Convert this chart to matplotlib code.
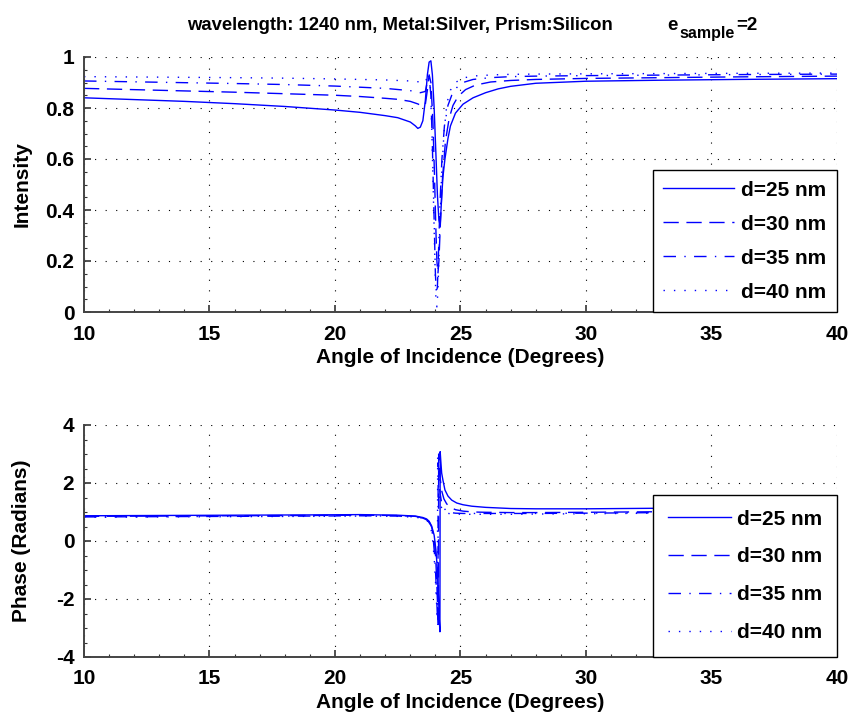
"""SPR: intensidade e fase da reflexão vs ângulo de incidência (4 espessuras de prata)."""
import numpy as np
import matplotlib
matplotlib.use('Agg')
import matplotlib.pyplot as plt
from matplotlib.ticker import MultipleLocator

plt.rcParams['font.family'] = ['Liberation Sans', 'DejaVu Sans']
plt.rcParams['font.weight'] = 'bold'
plt.rcParams['axes.labelweight'] = 'bold'

LABELS = ['d=25 nm', 'd=30 nm', 'd=35 nm', 'd=40 nm']

# --- intensidade ---
ANG_I25 = [10, 12, 14, 16, 18, 20, 21, 22, 22.5, 23, 23.2, 23.3, 23.4, 23.5, 23.6, 23.68, 23.75, 23.82,
           23.88, 23.95, 24.02, 24.08, 24.14, 24.19, 24.25, 24.3, 24.38, 24.5, 24.6, 24.8, 25.1, 25.5,
           26, 26.5, 27, 28, 30, 33, 36, 40]
INT_25 = [0.840, 0.833, 0.826, 0.817, 0.806, 0.792, 0.783, 0.770, 0.762, 0.745, 0.730, 0.720, 0.725,
          0.750, 0.830, 0.930, 0.980, 0.985, 0.930, 0.800, 0.620, 0.460, 0.360, 0.340, 0.450, 0.530,
          0.600, 0.680, 0.730, 0.780, 0.815, 0.840, 0.860, 0.875, 0.885, 0.897, 0.905, 0.909, 0.912, 0.915]

ANG_I30 = [10, 12, 14, 16, 18, 20, 21, 22, 22.5, 23, 23.3, 23.5, 23.6, 23.68, 23.75, 23.82, 23.9,
           23.96, 24.02, 24.06, 24.1, 24.14, 24.2, 24.28, 24.4, 24.55, 24.7, 24.9, 25.2, 25.6, 26.2,
           27, 28, 30, 33, 36, 40]
INT_30 = [0.877, 0.872, 0.867, 0.862, 0.856, 0.850, 0.845, 0.838, 0.834, 0.826, 0.816, 0.806, 0.815,
          0.870, 0.930, 0.900, 0.750, 0.550, 0.320, 0.200, 0.150, 0.200, 0.350, 0.520, 0.670, 0.760,
          0.810, 0.845, 0.872, 0.890, 0.902, 0.908, 0.912, 0.916, 0.919, 0.922, 0.925]

ANG_I35 = [10, 13, 16, 18, 20, 22, 23, 23.4, 23.6, 23.68, 23.75, 23.82, 23.88, 23.94, 24.0, 24.04,
           24.08, 24.12, 24.18, 24.26, 24.36, 24.5, 24.65, 24.85, 25.1, 25.5, 26.2, 27, 28, 30, 33,
           36, 40]
INT_35 = [0.906, 0.901, 0.896, 0.892, 0.886, 0.877, 0.868, 0.860, 0.865, 0.905, 0.925, 0.850, 0.650,
          0.400, 0.150, 0.070, 0.100, 0.220, 0.420, 0.600, 0.730, 0.810, 0.850, 0.880, 0.900, 0.912,
          0.919, 0.923, 0.925, 0.927, 0.929, 0.931, 0.933]

ANG_I40 = [10, 13, 16, 18, 20, 22, 23, 23.4, 23.6, 23.68, 23.74, 23.8, 23.86, 23.92, 23.98, 24.02,
           24.06, 24.1, 24.16, 24.24, 24.34, 24.46, 24.6, 24.8, 25.1, 25.6, 26.3, 27, 28, 30, 33,
           36, 40]
INT_40 = [0.923, 0.921, 0.919, 0.917, 0.914, 0.910, 0.906, 0.902, 0.900, 0.925, 0.935, 0.880, 0.700,
          0.450, 0.200, 0.050, 0.020, 0.080, 0.280, 0.520, 0.700, 0.820, 0.870, 0.900, 0.918, 0.926,
          0.930, 0.932, 0.933, 0.934, 0.935, 0.936, 0.937]

# --- fase (rad) ---
ANG_P25 = [10, 13, 16, 19, 21, 22.5, 23.2, 23.5, 23.65, 23.75, 23.85, 23.95, 24.02, 24.08, 24.12,
           24.16, 24.18, 24.19, 24.22, 24.25, 24.3, 24.38, 24.5, 24.65, 24.85, 25.1, 25.45, 26, 27,
           28, 30, 33, 36, 40]
PH_25 = [0.87, 0.88, 0.89, 0.90, 0.91, 0.89, 0.86, 0.81, 0.76, 0.68, 0.52, 0.20, -0.30, -1.00, -1.90,
         -2.80, -3.13, 3.08, 2.70, 2.34, 2.10, 1.76, 1.55, 1.41, 1.31, 1.25, 1.20, 1.16, 1.12, 1.11,
         1.11, 1.13, 1.16, 1.20]

ANG_P30 = [10, 13, 16, 19, 21, 22.5, 23.2, 23.5, 23.65, 23.75, 23.85, 23.95, 24.0, 24.05, 24.09,
           24.12, 24.13, 24.16, 24.2, 24.26, 24.34, 24.45, 24.6, 24.8, 25.1, 25.5, 26, 27, 28, 30,
           33, 36, 40]
PH_30 = [0.85, 0.86, 0.87, 0.88, 0.89, 0.88, 0.85, 0.80, 0.74, 0.66, 0.48, 0.10, -0.40, -1.30, -2.30,
         -3.00, 3.00, 2.60, 2.10, 1.70, 1.45, 1.28, 1.16, 1.08, 1.03, 1.00, 0.99, 0.98, 0.98, 0.99,
         1.01, 1.03, 1.06]

ANG_P35 = [10, 13, 16, 19, 21, 22.5, 23.2, 23.5, 23.65, 23.75, 23.85, 23.92, 23.98, 24.03, 24.07,
           24.1, 24.11, 24.14, 24.18, 24.24, 24.32, 24.45, 24.6, 24.8, 25.1, 25.5, 26, 27, 28, 30,
           33, 36, 40]
PH_35 = [0.83, 0.84, 0.85, 0.86, 0.87, 0.86, 0.83, 0.79, 0.73, 0.64, 0.42, 0.00, -0.60, -1.50, -2.40,
         -2.95, 2.70, 2.20, 1.70, 1.35, 1.15, 1.03, 0.98, 0.96, 0.95, 0.95, 0.95, 0.95, 0.95, 0.96,
         0.98, 1.00, 1.02]

ANG_P40 = [10, 13, 16, 19, 21, 22.5, 23.2, 23.5, 23.65, 23.75, 23.83, 23.9, 23.96, 24.01, 24.05,
           24.08, 24.09, 24.12, 24.16, 24.22, 24.3, 24.42, 24.58, 24.8, 25.1, 25.5, 26, 27, 28, 30,
           33, 36, 40]
PH_40 = [0.82, 0.83, 0.84, 0.85, 0.86, 0.85, 0.82, 0.78, 0.72, 0.62, 0.40, -0.05, -0.70, -1.50, -2.20,
         -2.70, 2.90, 2.00, 1.50, 1.20, 1.05, 0.97, 0.94, 0.93, 0.92, 0.92, 0.92, 0.92, 0.93, 0.94,
         0.96, 0.98, 1.00]

BLUE = '#0000ff'
STYLES = ['-', (0, (11, 5.5)), (0, (9, 6, 1, 6)), (0, (1, 6.5))]
W, H = 856, 720


def style_axes(ax, ylim, ystep, yminor, ylabels, leg_kw):
    ax.set_xlim(10, 40)
    ax.set_ylim(*ylim)
    ax.xaxis.set_major_locator(MultipleLocator(5))
    ax.xaxis.set_minor_locator(MultipleLocator(1))
    ax.yaxis.set_minor_locator(MultipleLocator(yminor))
    ax.set_yticks(np.arange(ylim[0], ylim[1] + ystep / 2, ystep))
    ax.set_yticklabels(ylabels)
    ax.tick_params(which='both', direction='in', top=False, right=False, labelsize=15, color='#333333')
    ax.tick_params(which='major', length=5, width=1.2)
    ax.tick_params(which='minor', length=2.5, width=0.8)
    ax.tick_params(axis='x', pad=9)
    ax.tick_params(axis='y', pad=7)
    for s in ['top', 'right']:
        ax.spines[s].set_visible(False)
    for s in ['left', 'bottom']:
        ax.spines[s].set_color('#444444'); ax.spines[s].set_linewidth(1.4)
    ax.grid(True, which='major', color='k', linestyle=(0, (1, 8.5)), linewidth=0.8)
    ax.set_xlabel('Angle of Incidence (Degrees)', fontsize=15, labelpad=3)
    leg = ax.legend(loc='lower right', borderaxespad=0, fontsize=15, fancybox=False,
                    framealpha=1, edgecolor='k', **leg_kw)
    leg.get_frame().set_linewidth(1.0)


fig = plt.figure(figsize=(W / 100, H / 100), dpi=100)
ax1 = fig.add_axes([84 / W, 1 - 312 / H, 753 / W, 255 / H])
ax2 = fig.add_axes([84 / W, 1 - 657 / H, 753 / W, 232 / H])

for a, v, ls, lab in zip([ANG_I25, ANG_I30, ANG_I35, ANG_I40], [INT_25, INT_30, INT_35, INT_40], STYLES, LABELS):
    ax1.plot(a, v, color=BLUE, linestyle=ls, lw=1.0, label=lab)
for a, v, ls, lab in zip([ANG_P25, ANG_P30, ANG_P35, ANG_P40], [PH_25, PH_30, PH_35, PH_40], STYLES, LABELS):
    ax2.plot(a, v, color=BLUE, linestyle=ls, lw=1.0, label=lab)

style_axes(ax1, (0, 1), 0.2, 0.05, ['0', '0.2', '0.4', '0.6', '0.8', '1'],
           dict(labelspacing=0.72, borderpad=0.5, handlelength=3.4, handletextpad=0.35))
style_axes(ax2, (-4, 4), 2, 0.5, ['-4', '-2', '0', '2', '4'],
           dict(labelspacing=0.9, borderpad=0.72, handlelength=3.0, handletextpad=0.3))
ax1.set_ylabel('Intensity', fontsize=15, labelpad=10)
ax2.set_ylabel('Phase (Radians)', fontsize=15, labelpad=18)

# título estilo MATLAB: e_{sample} com subscrito grande
fig.text(613 / W, 1 - 30 / H, 'wavelength: 1240 nm, Metal:Silver, Prism:Silicon',
         ha='right', va='baseline', fontsize=13.3)
fig.text(667 / W, 1 - 30 / H, 'e', ha='left', va='baseline', fontsize=13.5)
fig.text(679 / W, 1 - 38 / H, 'sample', ha='left', va='baseline', fontsize=11.5)
fig.text(736 / W, 1 - 30 / H, '=2', ha='left', va='baseline', fontsize=13.5)

fig.savefig('out.png', dpi=100, facecolor='white')
